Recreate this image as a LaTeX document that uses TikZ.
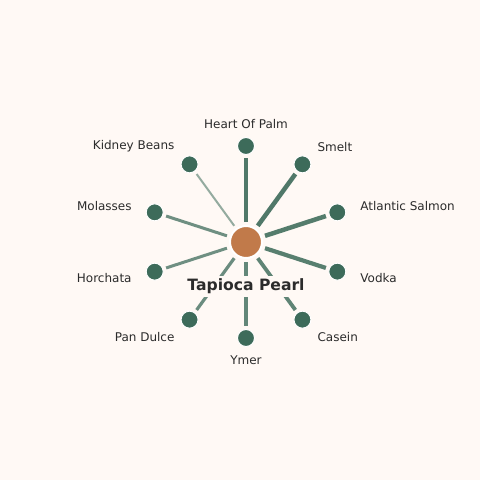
\documentclass[tikz,border=0pt]{standalone}
\usepackage{fontspec}
\setmainfont{DejaVu Sans}
\usepackage{tikz}

\definecolor{bgcream}{HTML}{FFF9F5}
\definecolor{leafgreen}{HTML}{3D6B5A}
\definecolor{hubcopper}{HTML}{C17A4A}
\definecolor{labelgray}{HTML}{2B2B2B}

\tikzset{
  leaf/.style={circle, fill=leafgreen, draw=white, line width=1pt, minimum size=17pt, inner sep=0pt},
  hub/.style={circle, fill=hubcopper, draw=white, line width=2pt, minimum size=32pt, inner sep=0pt},
  spoke/.style={draw=leafgreen, shorten <=3pt, shorten >=3pt},
  leaftext/.style={text=labelgray, inner sep=2pt, font=\fontsize{12}{14}\selectfont}
}

\begin{document}
\begin{tikzpicture}[x=1pt,y=1pt]
\fill[bgcream] (-246,-238) rectangle (234,242);
\node[hub] (tapioca) at (0,0) {};
\node[leaf] (palm) at (90:96pt) {};
\node[leaf] (smelt) at (54:96pt) {};
\node[leaf] (salmon) at (18:96pt) {};
\node[leaf] (vodka) at (-18:96pt) {};
\node[leaf] (casein) at (-54:96pt) {};
\node[leaf] (ymer) at (-90:96pt) {};
\node[leaf] (dulce) at (-126:96pt) {};
\node[leaf] (horchata) at (-162:96pt) {};
\node[leaf] (molasses) at (162:96pt) {};
\node[leaf] (beans) at (126:96pt) {};
% spokes, thinner and paler going round
\draw[spoke, line width=4.5pt, draw opacity=0.9] (tapioca) -- (palm);
\draw[spoke, line width=4.5pt, draw opacity=0.9] (tapioca) -- (smelt);
\draw[spoke, line width=4.5pt, draw opacity=0.88] (tapioca) -- (salmon);
\draw[spoke, line width=4.2pt, draw opacity=0.86] (tapioca) -- (vodka);
\draw[spoke, line width=3.8pt, draw opacity=0.82] (tapioca) -- (casein);
\draw[spoke, line width=3.6pt, draw opacity=0.8] (tapioca) -- (ymer);
\draw[spoke, line width=3.2pt, draw opacity=0.76] (tapioca) -- (dulce);
\draw[spoke, line width=3pt, draw opacity=0.74] (tapioca) -- (horchata);
\draw[spoke, line width=3pt, draw opacity=0.74] (tapioca) -- (molasses);
\draw[spoke, line width=2pt, draw opacity=0.55] (tapioca) -- (beans);
\node[leaftext, anchor=center] (lpalm) at (90:118pt) {Heart Of Palm};
\node[leaftext, anchor=west] (lsmelt) at (54:118pt) {Smelt};
\node[leaftext, anchor=west] (lsalmon) at (18:118pt) {Atlantic Salmon};
\node[leaftext, anchor=west] (lvodka) at (-18:118pt) {Vodka};
\node[leaftext, anchor=west] (lcasein) at (-54:118pt) {Casein};
\node[leaftext, anchor=center] (lymer) at (-90:118pt) {Ymer};
\node[leaftext, anchor=east] (ldulce) at (-126:118pt) {Pan Dulce};
\node[leaftext, anchor=east] (lhorchata) at (-162:118pt) {Horchata};
\node[leaftext, anchor=east] (lmolasses) at (162:118pt) {Molasses};
\node[leaftext, anchor=east] (lbeans) at (126:118pt) {Kidney Beans};
\node[fill=bgcream, inner sep=2.5pt, text=labelgray, font=\fontsize{15.6}{18}\selectfont\bfseries] (title) at (0,-44.5) {Tapioca Pearl};
\end{tikzpicture}
\end{document}
